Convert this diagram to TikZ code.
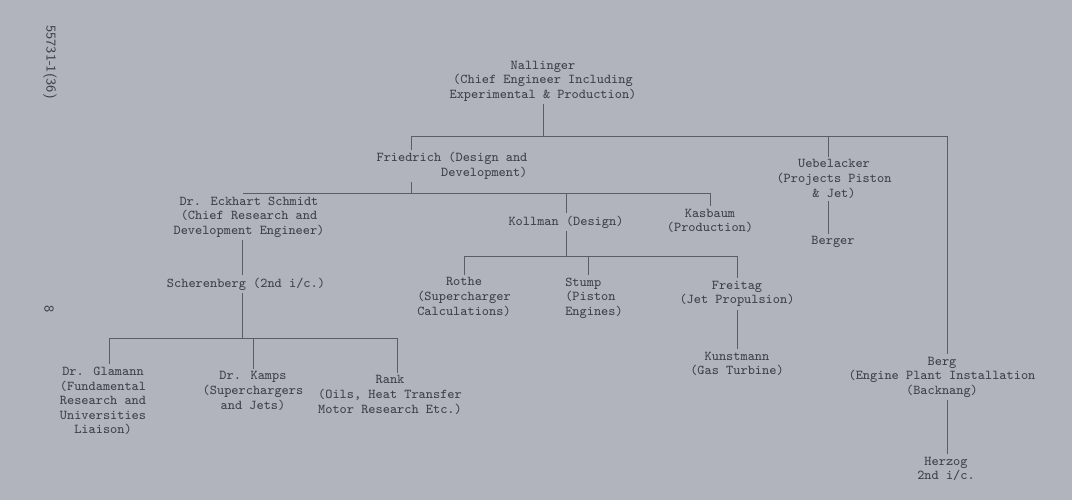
\documentclass[tikz,border=0pt]{standalone}
\usepackage{xcolor}
\usepackage{tikz}
\usetikzlibrary{positioning, calc}

\definecolor{paper}{RGB}{177,180,189}
\definecolor{ink}{RGB}{62,64,74}

\begin{document}
\begin{tikzpicture}[
    x=0.02cm, y=-0.02cm,
    person/.style={text=ink, inner sep=1.5pt, outer sep=0pt, align=center,
        font=\ttfamily\fontsize{7.7}{8.3}\selectfont},
    link/.style={draw=ink!85, line width=0.45pt},
    stamp/.style={text=ink, rotate=-90, font=\sffamily\fontsize{7.7}{8}\selectfont},
]
\fill[paper] (0,0) rectangle (1072,500);
\useasboundingbox (0,0) rectangle (1072,500);

% Margin marks
\node[stamp] (fileno) at (50,62) {55731-1(36)};
\node[stamp] (pageno) at (49,309) {8};

% Nodes
\node[person] (nallinger) at (543,81) {Nallinger\\(Chief Engineer Including\\Experimental \& Production)};
\node[person, align=right] (friedrich) at (452,166) {Friedrich (Design and\\Development)};
\node[person] (uebelacker) at (834,179) {Uebelacker\\(Projects Piston\\\& Jet)};
\node[person] (berger) at (833,242) {Berger};
\node[person] (berg) at (942,377) {Berg\\(Engine Plant Installation\\(Backnang)};
\node[person] (herzog) at (946,469) {Herzog\\2nd i/c.};

\node[person] (schmidt) at (249,217) {Dr. Eckhart Schmidt\\(Chief Research and\\Development Engineer)};
\node[person] (kollman) at (566,222) {Kollman (Design)};
\node[person] (kasbaum) at (710,221) {Kasbaum\\(Production)};

\node[person] (scherenberg) at (246,284) {Scherenberg (2nd i/c.)};
\node[person] (glamann) at (103,401) {Dr. Glamann\\(Fundamental\\Research and\\Universities\\Liaison)};
\node[person] (kamps) at (253,391) {Dr. Kamps\\(Superchargers\\and Jets)};
\node[person] (rank) at (390,395) {Rank\\(Oils, Heat Transfer\\Motor Research Etc.)};

\node[person] (rothe) at (464,297) {Rothe\\(Supercharger\\Calculations)};
\node[person, align=left] (stump) at (594,298) {Stump\\(Piston\\Engines)};
\node[person] (freitag) at (737,294) {Freitag\\(Jet Propulsion)};
\node[person] (kunstmann) at (737,364) {Kunstmann\\(Gas Turbine)};

% Junctions
\coordinate (bus0) at (0,136);
\coordinate (bus1) at (0,193);
\coordinate (bus2) at (0,256);
\coordinate (bus3) at (0,338);
\coordinate (frdrop) at (411,0);
\coordinate (uedrop) at (828,0);
\coordinate (bgdrop) at (947,0);
\coordinate (scdrop) at (242,0);
\coordinate (shdrop) at (243,0);
\coordinate (gldrop) at (109,0);
\coordinate (radrop) at (397,0);
\coordinate (stdrop) at (588,0);

% Lines
\draw[link] (nallinger.south) -- (nallinger.south |- bus0);
\draw[link] (frdrop |- friedrich.north) -- (frdrop |- bus0) -- (bgdrop |- bus0) -- (bgdrop |- berg.north);
\draw[link] (uedrop |- uebelacker.north) -- (uedrop |- bus0);
\draw[link] (uedrop |- uebelacker.south) -- (uedrop |- berger.north);
\draw[link] (bgdrop |- berg.south) -- (bgdrop |- herzog.north);

\draw[link] (frdrop |- friedrich.south) -- (frdrop |- bus1);
\draw[link] (shdrop |- bus1) -| (kasbaum.north);
\draw[link] (kollman.north) -- (kollman.north |- bus1);

\draw[link] (scdrop |- schmidt.south) -- (scdrop |- scherenberg.north);
\draw[link] (scdrop |- scherenberg.south) -- (scdrop |- bus3);
\draw[link] (gldrop |- glamann.north) -- (gldrop |- bus3) -| (radrop |- rank.north);
\draw[link] (kamps.north) -- (kamps.north |- bus3);

\draw[link] (kollman.south) -- (kollman.south |- bus2);
\draw[link] (rothe.north) -- (rothe.north |- bus2) -| (freitag.north);
\draw[link] (stdrop |- stump.north) -- (stdrop |- bus2);
\draw[link] (freitag.south) -- (kunstmann.north);

\end{tikzpicture}
\end{document}
